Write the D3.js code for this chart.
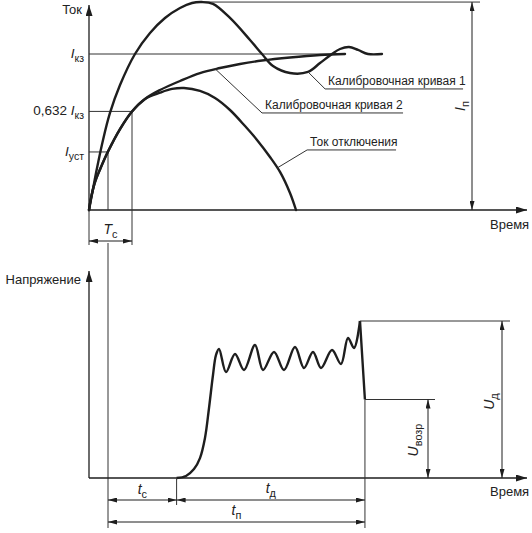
<!DOCTYPE html>
<html><head><meta charset="utf-8">
<script src="https://cdn.jsdelivr.net/npm/d3@7"></script>
<style>
body{margin:0;background:#fff}
svg{display:block}
text{font-family:"Liberation Sans",Arial,sans-serif;fill:#222}
</style>
</head><body>
<svg id="c" width="532" height="533"></svg>
<script>
// ---------- DATA (time in arbitrary units, current relative to Iкз, voltage relative to Uд) ----------
const curve1T = [0,0.91,1.83,3.2,4.79,7.08,10.5,13.93,17.35,20.78,23.52,25.8,28.31,32.19,36.76,39.5,42.01,45.89,50,52.74,55.48,57.31,59.36,61.42,63.7,66.89];
const curve1I = [0,0.135,0.269,0.449,0.622,0.801,1,1.135,1.231,1.295,1.327,1.333,1.321,1.231,1.09,1,0.923,0.878,0.885,0.942,1,1.032,1.045,1.026,1.0,1.0];

const curve2T = [0,0.46,1.37,2.51,4.34,7.08,9.82,12.79,16.21,20.78,25.34,29.91,34.47,39.5,45.89,52.74,58.45];
const curve2I = [0,0.077,0.179,0.26,0.375,0.519,0.632,0.712,0.769,0.827,0.878,0.91,0.936,0.958,0.978,0.994,1.0];

const tripT = [0,0.46,1.37,2.51,4.34,7.08,9.82,12.79,16.21,18.95,21.69,25.34,28.77,32.19,35.62,38.36,41.32,43.61,45.89,47.26];
const tripI = [0,0.077,0.179,0.26,0.375,0.519,0.632,0.712,0.752,0.776,0.782,0.763,0.718,0.641,0.538,0.449,0.34,0.244,0.109,0];

const voltT = [20,22.15,23.97,25.34,26.48,27.4,28.31,28.99,29.68,31.28,33.33,35.39,37.9,39.73,42.24,44.52,47.03,49.09,51.14,52.97,55.48,57.53,59.13,60.5,61.87];
const voltU = [0,0.013,0.057,0.127,0.255,0.446,0.656,0.783,0.822,0.675,0.79,0.688,0.847,0.688,0.803,0.688,0.834,0.701,0.803,0.701,0.815,0.726,0.892,0.828,1.0];
const dropT = [61.87,63.0];
const dropU = [1.0,0.5];

// levels / characteristic values
const Ikz = 1, I632 = 0.632, Iust = 0.372, Ipeak = 1.333;
const tUst = 4.34, Tc = 9.82, tC = 20, tEnd = 63.0, tPeak = 25.8;
const Ud = 1, Uvozr = 0.5;

const yTickValues = [Ikz, I632, Iust];
const yTickPrefix = ["", "0,632", ""];
const yTickSub = ["кз", "кз", "уст"];

const curveLabels = ["Калибровочная кривая 1", "Калибровочная кривая 2", "Ток отключения"];
// leader: anchor on curve (t,I) -> elbow (t,I) -> underline end t
const leaderFrom = [[50,0.885],[28.8,0.905],[43.0,0.27]];
const leaderElbow = [[53.9,0.776],[39.5,0.622],[49.8,0.385]];
const leaderEnd = [85.4,71.7,70.1];

// ---------- LAYOUT ----------
const svg = d3.select("#c");
const x = d3.scaleLinear().domain([0,100]).range([89,527]);
const yT = d3.scaleLinear().domain([0,1]).range([210,54]);
const yB = d3.scaleLinear().domain([0,1]).range([478,321]);
const ink = "#1e1e1e", thin = "#333";

const defs = svg.append("defs");
function marker(id, w, h){
  defs.append("marker").attr("id",id).attr("viewBox","0 0 10 10").attr("refX",10).attr("refY",5)
    .attr("markerWidth",w).attr("markerHeight",h).attr("markerUnits","userSpaceOnUse")
    .attr("preserveAspectRatio","none").attr("orient","auto-start-reverse")
    .append("path").attr("d","M0,0 L10,5 L0,10 z").attr("fill",ink);
}
marker("ax",11,7);
marker("dm",9,5);

function line(x1,y1,x2,y2,w,col){
  return svg.append("line").attr("x1",x1).attr("y1",y1).attr("x2",x2).attr("y2",y2)
    .attr("stroke",col||thin).attr("stroke-width",w||1);
}
function dim(x1,y1,x2,y2){
  return line(x1,y1,x2,y2,1,ink).attr("marker-start","url(#dm)").attr("marker-end","url(#dm)");
}
function label(xp, yp, parts, anchor, size, rot){
  const g = svg.append("g").attr("transform",`translate(${xp},${yp})`+(rot?` rotate(${rot})`:""));
  const t = g.append("text").attr("text-anchor",anchor||"start").attr("font-size",size||13);
  let shifted = 0;
  parts.forEach(p=>{
    const s = t.append("tspan").text(p.t);
    if(p.it) s.attr("font-style","italic");
    if(p.sub){ s.attr("font-size",(size||13)*0.78).attr("dy",4-shifted); shifted=4; }
    else if(shifted){ s.attr("dy",-shifted); shifted=0; }
  });
  return g;
}

// ---------- TOP CHART ----------
line(x(0),yT(0),x(0),5,1.3,ink).attr("marker-end","url(#ax)");
line(x(0),yT(0),527,yT(0),1.3,ink).attr("marker-end","url(#ax)");
label(82,14,[{t:"Ток"}],"end",13);
label(490,229,[{t:"Время"}],"start",13);

// reference lines
line(x(0),yT(Ikz),x(58.45),yT(Ikz));
line(x(0),yT(I632),x(Tc),yT(I632));
line(x(Tc),yT(I632),x(Tc),245);
line(x(0),yT(Iust),x(tUst),yT(Iust));
line(x(tUst),yT(Iust),x(tUst),yT(0));
line(x(0),yT(0),x(0),245);
line(x(tUst),243,x(tUst),528);

// tick labels
yTickValues.forEach((v,i)=>{
  const parts = [];
  if(yTickPrefix[i]) parts.push({t:yTickPrefix[i]+" "});
  parts.push({t:"I",it:true},{t:yTickSub[i],sub:true});
  label(84,yT(v)+4,parts,"end",13.5);
});

// Tc dimension
dim(x(0),241,x(Tc),241);
label((x(0)+x(Tc))/2,234,[{t:"T",it:true},{t:"с",sub:true}],"middle",14);

// In dimension
line(x(tPeak),yT(Ipeak),480,yT(Ipeak));
dim(472,yT(Ipeak),472,yT(0));
label(465,106,[{t:"I",it:true},{t:"п",sub:true}],"middle",14,-90);

// curves
const gen = d3.line().x(d=>x(d[0])).y(d=>yT(d[1])).curve(d3.curveCatmullRom.alpha(0.5));
const z = (a,b)=>a.map((v,i)=>[v,b[i]]);
[[curve1T,curve1I],[curve2T,curve2I],[tripT,tripI]].forEach(([a,b])=>{
  svg.append("path").attr("d",gen(z(a,b))).attr("fill","none").attr("stroke",ink).attr("stroke-width",2.4).attr("stroke-linecap","round");
});

// leaders + labels
curveLabels.forEach((txt,i)=>{
  const [fa,fb]=leaderFrom[i], [ea,eb]=leaderElbow[i];
  svg.append("polyline").attr("points",[[x(fa),yT(fb)],[x(ea),yT(eb)],[x(leaderEnd[i]),yT(eb)]].map(p=>p.join(",")).join(" "))
    .attr("fill","none").attr("stroke",thin).attr("stroke-width",1);
  label(x(ea)+3,yT(eb)-4,[{t:txt}],"start",12);
});

// ---------- BOTTOM CHART ----------
line(x(0),yB(0),x(0),271,1.3,ink).attr("marker-end","url(#ax)");
line(x(0),yB(0),527,yB(0),1.3,ink).attr("marker-end","url(#ax)");
label(81,284,[{t:"Напряжение"}],"end",13);
label(490,496,[{t:"Время"}],"start",13);

const genB = d3.line().x(d=>x(d[0])).y(d=>yB(d[1])).curve(d3.curveCatmullRom.alpha(0.5));
svg.append("path").attr("d",genB(z(voltT,voltU))).attr("fill","none").attr("stroke",ink).attr("stroke-width",2.4).attr("stroke-linejoin","round");
svg.append("path").attr("d",d3.line().x(d=>x(d[0])).y(d=>yB(d[1]))(z(dropT,dropU))).attr("fill","none").attr("stroke",ink).attr("stroke-width",2.4);

// level lines
line(x(dropT[0]),yB(Ud),510,yB(Ud));
line(x(tEnd),yB(Uvozr),435,yB(Uvozr));
dim(502,yB(Ud),502,yB(0));
dim(428,yB(Uvozr),428,yB(0));
label(494,yB(0.5*Ud)+2,[{t:"U",it:true},{t:"д",sub:true}],"middle",14,-90);
label(418,440,[{t:"U",it:true},{t:"возр",sub:true}],"middle",14,-90);

// time verticals & dimensions
line(x(tC),yB(0),x(tC),505);
line(x(tEnd),yB(Uvozr),x(tEnd),528);
dim(x(tUst),500,x(tC),500);
dim(x(tC),500,x(tEnd),500);
dim(x(tUst),522,x(tEnd),522);
label((x(tUst)+x(tC))/2,494,[{t:"t",it:true},{t:"с",sub:true}],"middle",14);
label((x(tC)+x(tEnd))/2,493,[{t:"t",it:true},{t:"д",sub:true}],"middle",14);
label((x(tUst)+x(tEnd))/2,515,[{t:"t",it:true},{t:"п",sub:true}],"middle",14);
</script>
</body></html>
